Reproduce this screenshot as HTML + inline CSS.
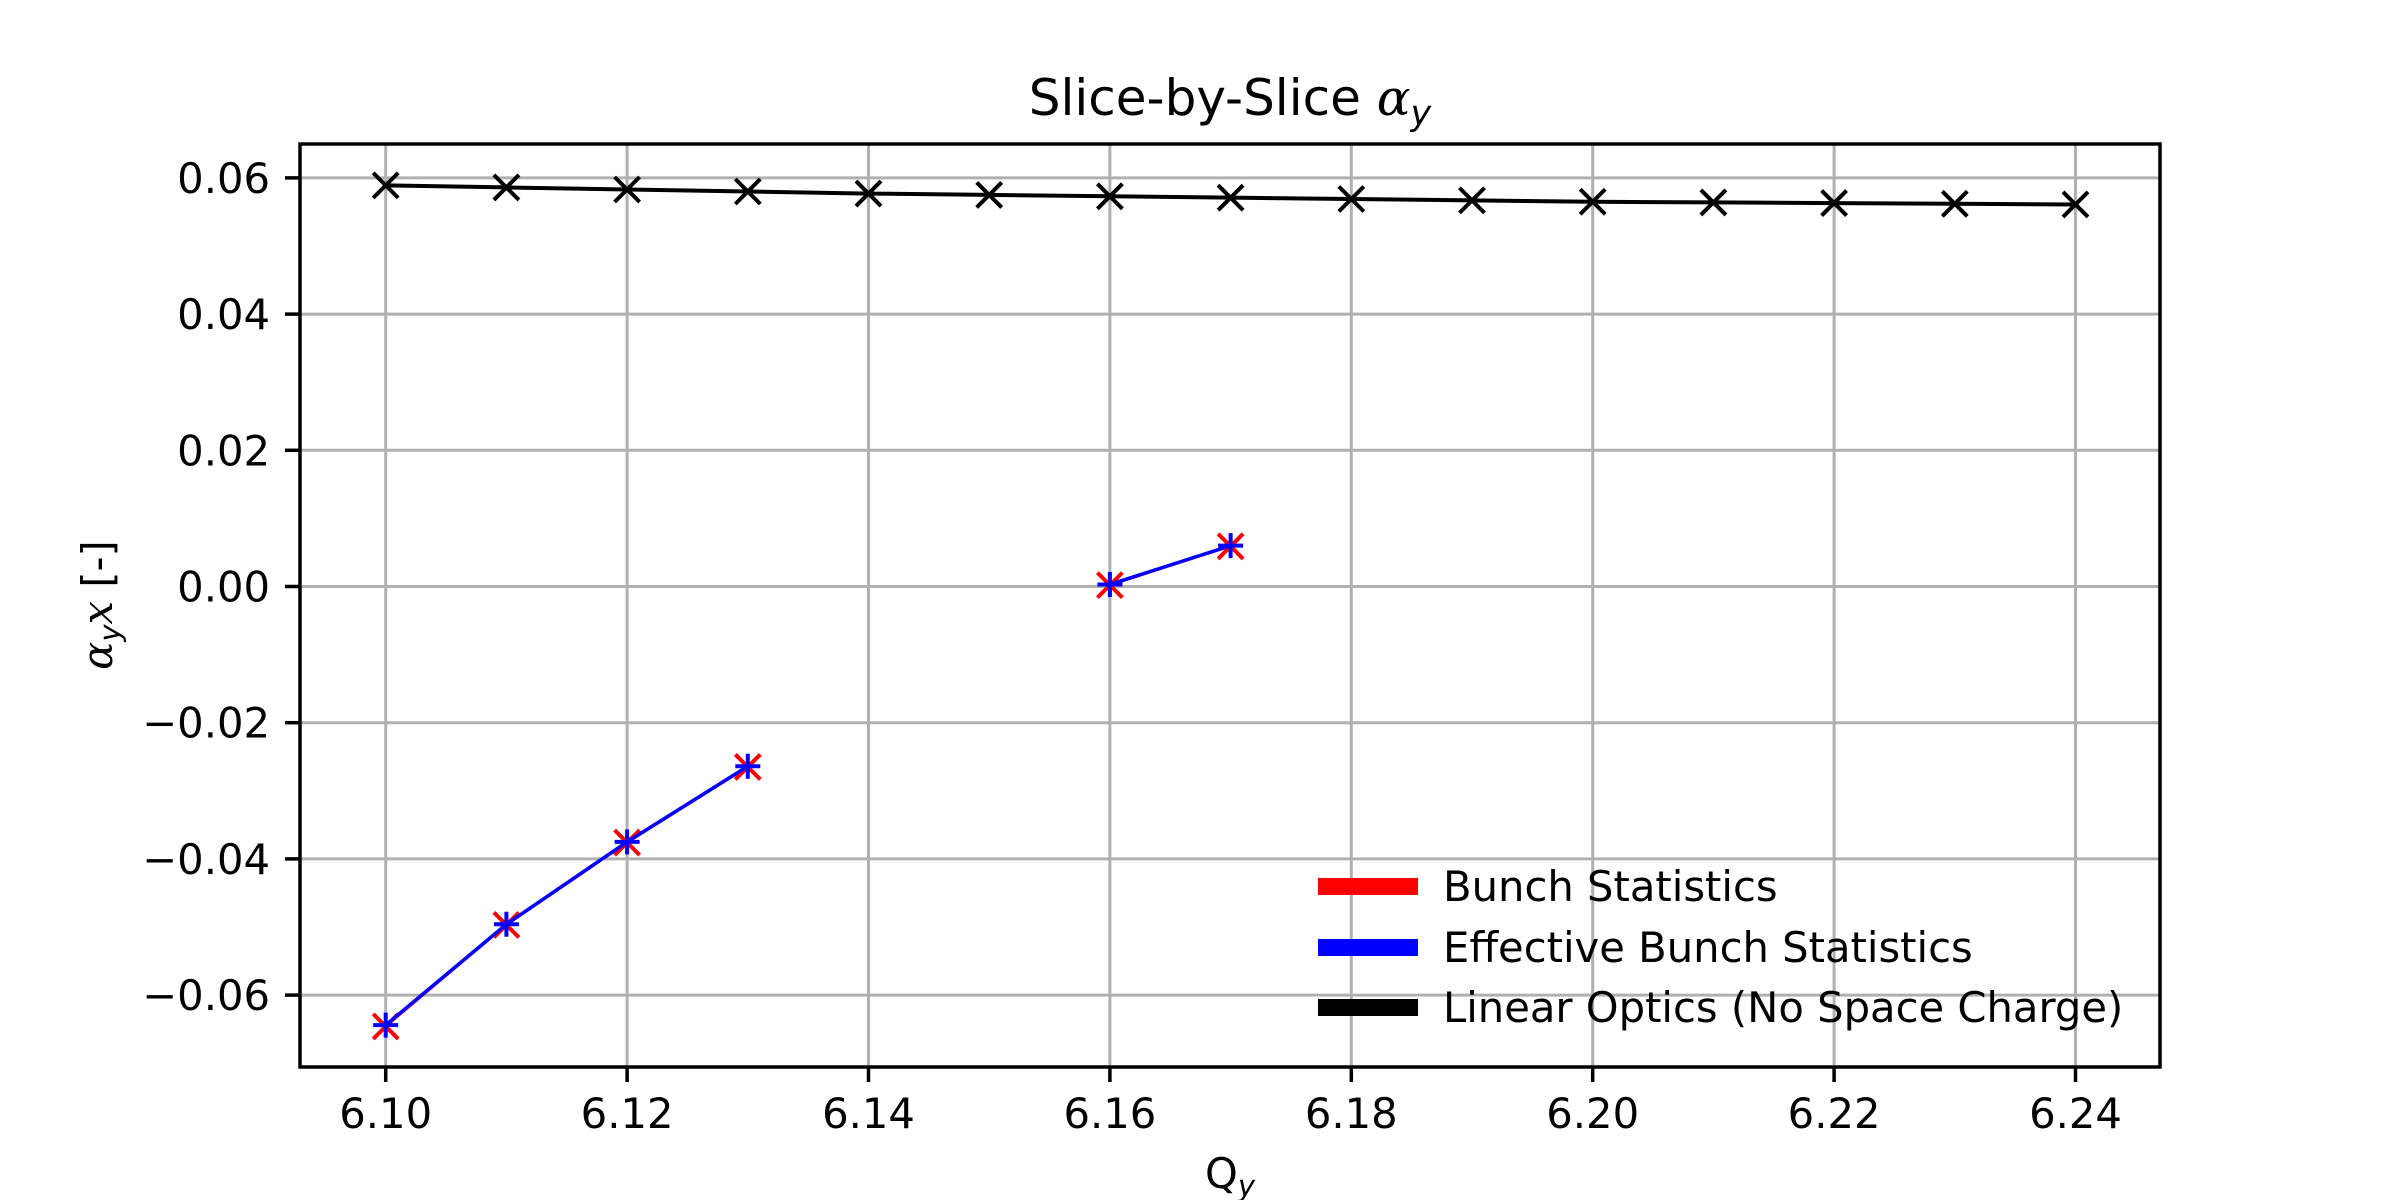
<!DOCTYPE html>
<html><head><meta charset="utf-8"><style>
html,body{margin:0;padding:0;background:#fff}
svg{display:block}
text{font-family:"DejaVu Sans","Liberation Sans",sans-serif;fill:#000}
</style></head><body>
<svg id="chart" width="2400" height="1200" viewBox="0 0 2400 1200" xmlns="http://www.w3.org/2000/svg">
<rect width="2400" height="1200" fill="#fff"/>
<g id="grid"></g>
<g id="series"></g>
<rect x="300" y="144" width="1860" height="923" fill="none" stroke="#000" stroke-width="3.5"/>
<g id="ticks"></g>
<text x="1230" y="115" font-size="50" text-anchor="middle">Slice-by-Slice <tspan font-style="italic" font-family="DejaVu Serif,serif">α</tspan><tspan font-size="35" dy="10" font-style="italic">y</tspan></text>
<text x="1230" y="1188" font-size="41.7" text-anchor="middle">Q<tspan font-size="29" dy="8" font-style="italic">y</tspan></text>
<text transform="translate(112,605) rotate(-90)" font-size="41.7" text-anchor="middle"><tspan font-style="italic" font-family="DejaVu Serif,serif">α</tspan><tspan font-size="29" dy="8" font-style="italic">y</tspan><tspan dy="-8" font-style="italic" font-family="DejaVu Serif,serif">x</tspan> [-]</text>
<g id="legend">
 <g><rect x="1318" y="878" width="100" height="17" fill="#ff0000"/><text x="1443" y="901" font-size="41.7">Bunch Statistics</text></g>
 <g><rect x="1318" y="939" width="100" height="17" fill="#0000ff"/><text x="1443" y="962" font-size="41.7">Effective Bunch Statistics</text></g>
 <g><rect x="1318" y="999" width="100" height="17" fill="#000"/><text x="1443" y="1022" font-size="41.7">Linear Optics (No Space Charge)</text></g>
</g>
</svg>
<script>
const xTicks = [6.10,6.12,6.14,6.16,6.18,6.20,6.22,6.24];
const xTickLabels = ["6.10","6.12","6.14","6.16","6.18","6.20","6.22","6.24"];
const yTicks = [-0.06,-0.04,-0.02,0.00,0.02,0.04,0.06];
const yTickLabels = ["\u22120.06","\u22120.04","\u22120.02","0.00","0.02","0.04","0.06"];
const linearQ = [6.10,6.11,6.12,6.13,6.14,6.15,6.16,6.17,6.18,6.19,6.20,6.21,6.22,6.23,6.24];
const linearAlpha = [0.0589,0.0586,0.0583,0.0580,0.0577,0.0575,0.0573,0.0571,0.0569,0.0567,0.0565,0.0564,0.0563,0.0562,0.0561];
const bunchSeg1Q = [6.10,6.11,6.12,6.13];
const bunchSeg1 = [-0.0646,-0.0497,-0.0376,-0.0265];
const effSeg1 = [-0.0644,-0.0496,-0.0375,-0.0264];
const bunchSeg2Q = [6.16,6.17];
const bunchSeg2 = [0.0002,0.0059];
const effSeg2 = [0.0003,0.0060];

const NS="http://www.w3.org/2000/svg";
function X(q){return 385.7+(q-6.10)*12070;}
function Y(v){return 586.5-v*6810;}
function mk(tag,attrs,parent){const e=document.createElementNS(NS,tag);for(const k in attrs)e.setAttribute(k,attrs[k]);parent.appendChild(e);return e;}
const grid=document.getElementById('grid'),ticks=document.getElementById('ticks'),series=document.getElementById('series');
xTicks.forEach((t,i)=>{
  const g=mk('line',{x1:X(t),x2:X(t),y1:144,y2:1067,stroke:'#b0b0b0','stroke-width':3},grid);
  
  
  const tk=mk('line',{x1:X(t),x2:X(t),y1:1067,y2:1082,stroke:'#000','stroke-width':3.5},ticks);
  
  
  const tx=mk('text',{x:X(t),y:1128,'font-size':41.7,'text-anchor':'middle'},ticks);
  tx.textContent=xTickLabels[i];
  
  
});
yTicks.forEach((t,i)=>{
  const g=mk('line',{x1:300,x2:2160,y1:Y(t),y2:Y(t),stroke:'#b0b0b0','stroke-width':3},grid);
  
  
  const tk=mk('line',{x1:285,x2:300,y1:Y(t),y2:Y(t),stroke:'#000','stroke-width':3.5},ticks);
  
  
  const tx=mk('text',{x:270,y:Y(t)+15,'font-size':41.7,'text-anchor':'end'},ticks);
  tx.textContent=yTickLabels[i];
  
  
});
function line(qs,vs,color,w,name){
  const p=mk('polyline',{points:qs.map((q,i)=>X(q)+','+Y(vs[i])).join(' '),fill:'none',stroke:color,'stroke-width':w},series);
  
  
}
function xMark(q,v,color,name){
  const s=12.5,x=X(q),y=Y(v);
  const p=mk('path',{d:`M${x-s},${y-s}L${x+s},${y+s}M${x-s},${y+s}L${x+s},${y-s}`,stroke:color,'stroke-width':4,fill:'none'},series);
  
  
}
function plusMark(q,v,color,name){
  const s=12.5,x=X(q),y=Y(v);
  const p=mk('path',{d:`M${x-s},${y}L${x+s},${y}M${x},${y-s}L${x},${y+s}`,stroke:color,'stroke-width':4,fill:'none'},series);
  
  
}
line(linearQ,linearAlpha,'#000',4,'linear-optics-line');
linearQ.forEach((q,i)=>xMark(q,linearAlpha[i],'#000','linear-optics-point'));
line(bunchSeg1Q,bunchSeg1,'#ff0000',2.5,'bunch-line-1');
line(bunchSeg2Q,bunchSeg2,'#ff0000',2.5,'bunch-line-2');
bunchSeg1Q.forEach((q,i)=>xMark(q,bunchSeg1[i],'#ff0000','bunch-point'));
bunchSeg2Q.forEach((q,i)=>xMark(q,bunchSeg2[i],'#ff0000','bunch-point'));
line(bunchSeg1Q,effSeg1,'#0000ff',3.5,'effective-line-1');
line(bunchSeg2Q,effSeg2,'#0000ff',3.5,'effective-line-2');
bunchSeg1Q.forEach((q,i)=>plusMark(q,effSeg1[i],'#0000ff','effective-point'));
bunchSeg2Q.forEach((q,i)=>plusMark(q,effSeg2[i],'#0000ff','effective-point'));
</script>
</body></html>
